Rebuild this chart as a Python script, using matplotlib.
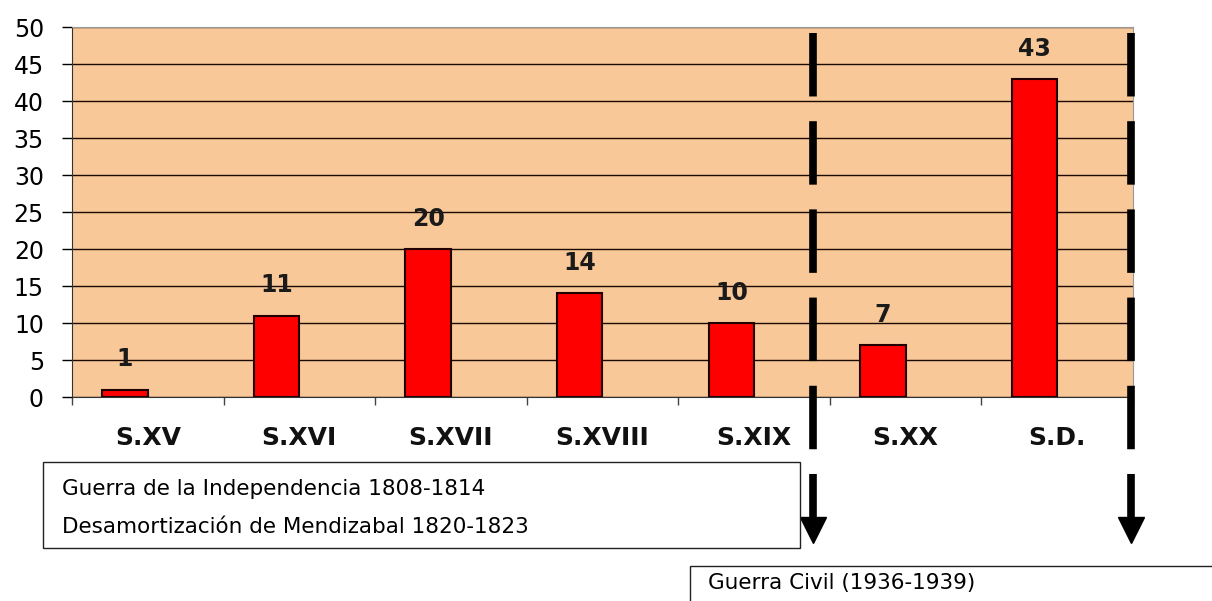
import numpy as np
import matplotlib.pyplot as plt
from matplotlib.patches import Rectangle

# data
categories = ["S.XV", "S.XVI", "S.XVII", "S.XVIII", "S.XIX", "S.XX", "S.D."]
counts = [1, 11, 20, 14, 10, 7, 43]
yticks = [0, 5, 10, 15, 20, 25, 30, 35, 40, 45, 50]
box1_lines = ["Guerra de la Independencia 1808-1814",
              "Desamortización de Mendizabal 1820-1823"]
box2_text = "Guerra Civil (1936-1939)"
# positions of the dashed separators (in category units)
separators = [4.39, 6.49]

plt.rcParams['font.family'] = ['DejaVu Sans']
plt.rcParams['lines.scale_dashes'] = False

fig = plt.figure(figsize=(12.12, 6.01), dpi=100)
ax = fig.add_axes([0.0594, 0.3394, 0.8754, 0.6156])
ax.set_facecolor('#F9C898')

x = np.arange(len(categories))
ax.bar(x - 0.15, counts, width=0.3, color='#FF0000', edgecolor='#200000',
       linewidth=1.5, zorder=3)
for xi, v in zip(x, counts):
    ax.text(xi - 0.15, v + 4.1, str(v), ha='center', va='center',
            fontsize=17, fontweight='bold', color='#1a1a1a', zorder=4)

ax.set_xlim(-0.5, len(categories) - 0.5)
ax.set_ylim(0, 50)
ax.set_yticks(yticks)
ax.tick_params(axis='y', labelsize=17, length=7.2, width=1, pad=13)
ax.yaxis.grid(True, color='#1a0a00', linewidth=1)
ax.set_axisbelow(True)

# category labels centred, tick marks on the boundaries
ax.set_xticks(np.arange(len(categories) + 1) - 0.5)
ax.set_xticklabels([])
ax.tick_params(axis='x', length=6, width=1, color='#444444')
for xi, lab in zip(x, categories):
    ax.text(xi, -5.6, lab, ha='center', va='center', fontsize=18,
            fontweight='bold', color='#111111', clip_on=False)

for s in ['top', 'right']:
    ax.spines[s].set_color('#999999')
ax.spines['left'].set_color('#333333')
ax.spines['bottom'].set_color('#333333')

# dashed separators with arrows
for sx in separators:
    ax.plot([sx, sx], [49.2, -16.6], color='black', linewidth=5.5,
            linestyle=(0, (45.7, 17.8)), solid_capstyle='butt',
            dash_capstyle='butt', clip_on=False, zorder=5)
    ax.plot([sx], [-18.0], marker='v', markersize=19, color='black',
            clip_on=False, zorder=5)

# annotation boxes
fig.add_artist(Rectangle((0.0355, 0.0882), 0.6246, 0.1431, transform=fig.transFigure,
                         facecolor='white', edgecolor='#222222', linewidth=1))
fig.text(0.0512, 0.1864, box1_lines[0], fontsize=15.5, va='center')
fig.text(0.0512, 0.1231, box1_lines[1], fontsize=15.5, va='center')

fig.add_artist(Rectangle((0.5693, -0.02), 0.45, 0.0782, transform=fig.transFigure,
                         facecolor='white', edgecolor='#222222', linewidth=1))
fig.text(0.5842, 0.030, box2_text, fontsize=15.5, va='center')

fig.savefig('out.png', dpi=100)
